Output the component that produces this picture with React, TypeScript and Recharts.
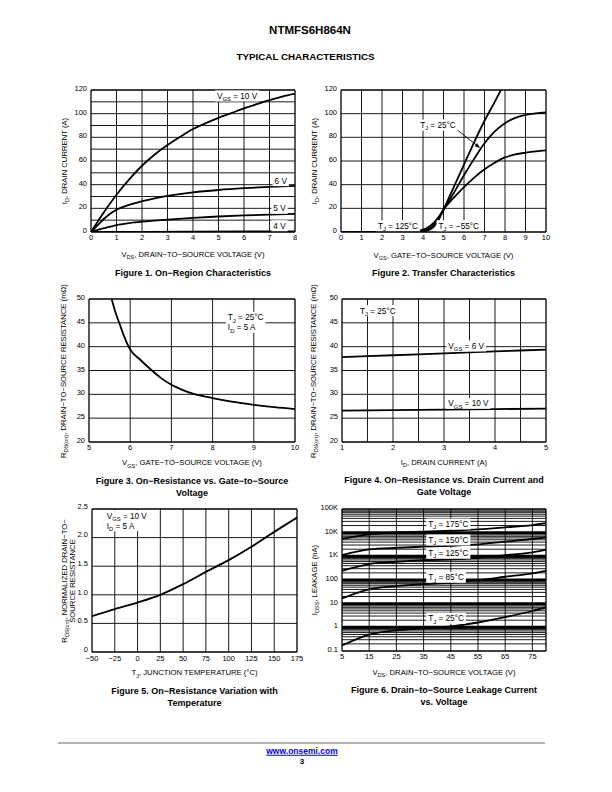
import React from 'react';
import { LineChart, Line, XAxis, YAxis, ReferenceLine, ReferenceDot } from 'recharts';

const FONT = '"Liberation Sans", Arial, Helvetica, sans-serif';

// ---------------- DATA ----------------
// Figure 1: ID vs VDS
const f1X10 = [0, 0.5, 1, 1.5, 2, 2.5, 3, 3.5, 4, 4.5, 5, 5.5, 6, 6.5, 7, 7.5, 8];
const f1Y10 = [0, 16.5, 31.5, 44.5, 56, 65.5, 73.5, 80.5, 87, 92, 96.5, 100.5, 104.5, 108, 111.5, 114.5, 117];
const f1X6 = [0, 0.25, 0.5, 0.75, 1, 1.5, 2, 2.5, 3, 4, 5, 6, 7, 8];
const f1Y6 = [0, 5.5, 11, 15.5, 18.8, 23, 26, 28.5, 30.5, 33.5, 35.5, 37, 38.2, 39];
const f1X5 = [0, 0.5, 1, 1.5, 2, 3, 4, 5, 6, 7, 8];
const f1Y5 = [0, 3.2, 5.9, 7.5, 8.7, 10.5, 12, 13.1, 14, 14.7, 15.3];
const f1X4 = [0, 2, 4, 6, 8];
const f1Y4 = [0, 0.15, 0.3, 0.45, 0.6];
const f1XTicks = [0, 1, 2, 3, 4, 5, 6, 7, 8];
const f1YTicks = [0, 20, 40, 60, 80, 100, 120];

// Figure 2: ID vs VGS
const f2X125 = [0, 1, 2, 3, 3.5, 4, 4.25, 4.5, 4.75, 5, 5.5, 6, 6.5, 7, 7.5, 8, 8.5, 9, 9.5, 10];
const f2Y125 = [0, 0, 0, 0.1, 0.5, 2, 4, 7.5, 12.5, 19, 29, 38, 46, 53, 58.5, 63, 65.5, 67, 68.2, 69];
const f2X25 = [0, 1, 2, 3, 3.5, 3.75, 4, 4.25, 4.5, 4.75, 5, 5.5, 6, 6.5, 7, 7.5, 8, 8.5, 9, 9.5, 10];
const f2Y25 = [0, 0, 0, 0, 0.1, 0.3, 1, 2.5, 5.5, 11, 19, 33, 48, 62, 75, 85, 92, 96.5, 99, 100.3, 101];
const f2Xm55 = [0, 1, 2, 3, 3.5, 4, 4.25, 4.5, 4.75, 5, 5.5, 6, 6.5, 7, 7.5, 7.8];
const f2Ym55 = [0, 0, 0, 0, 0, 0.3, 1.5, 4, 10, 19, 38, 57, 76, 94, 110, 120];
const f2XTicks = [0, 1, 2, 3, 4, 5, 6, 7, 8, 9, 10];
const f2YTicks = [0, 20, 40, 60, 80, 100, 120];

// Figure 3: RDS(on) vs VGS
const f3X = [5.55, 5.65, 5.75, 5.85, 5.95, 6, 6.25, 6.5, 6.75, 7, 7.25, 7.5, 8, 8.5, 9, 9.5, 10];
const f3Y = [50, 47, 44.6, 42.2, 40.2, 39.4, 37.2, 35.2, 33.4, 32, 31, 30.2, 29.2, 28.4, 27.8, 27.3, 26.9];
const f3XTicks = [5, 6, 7, 8, 9, 10];
const f3YTicks = [20, 25, 30, 35, 40, 45, 50];

// Figure 4: RDS(on) vs ID
const f4X = [1, 2, 3, 4, 5];
const f4Y6 = [37.8, 38.2, 38.6, 39.0, 39.4];
const f4Y10 = [26.6, 26.7, 26.8, 26.9, 27.0];
const f4XTicks = [1, 2, 3, 4, 5];
const f4YTicks = [20, 25, 30, 35, 40, 45, 50];

// Figure 5: normalized RDS(on) vs TJ
const f5X = [-50, -25, 0, 25, 50, 75, 100, 125, 150, 175];
const f5Y = [0.625, 0.75, 0.865, 1.0, 1.186, 1.4, 1.606, 1.84, 2.1, 2.35];
const f5XTicks = [-50, -25, 0, 25, 50, 75, 100, 125, 150, 175];
const f5YTicks = [0, 0.5, 1, 1.5, 2, 2.5];

// Figure 6: IDSS vs VDS (log)
const f6X = [5, 15, 25, 35, 45, 55, 65, 75, 80];
const f6Y25 = [0.17, 0.49, 0.75, 0.9, 1.1, 1.6, 2.7, 4.9, 6.9];
const f6Y85 = [16.6, 40, 55, 67, 76, 98, 137, 190, 245];
const f6Y125 = [245, 470, 590, 690, 740, 870, 1130, 1470, 1860];
const f6Y150 = [1130, 1950, 2300, 2550, 2800, 3200, 4200, 5400, 6300];
const f6Y175 = [5400, 8500, 10300, 11000, 12100, 13700, 16800, 21000, 25000];
const f6XTicks = [5, 15, 25, 35, 45, 55, 65, 75];
const f6YTicks = [0.1, 1, 10, 100, 1000, 10000, 100000];
const f6YTickLabels = ['0.1', '1', '10', '100', '1K', '10K', '100K'];

// ---------------- HELPERS ----------------
type Seg = [string, boolean?];
type Pt = { x: number; y: number };
const zip = (xs: number[], ys: number[]): Pt[] => xs.map((x, i) => ({ x, y: ys[i] }));
const range = (a: number, b: number, s: number) => {
  const r: number[] = [];
  for (let v = a; v <= b + 1e-9; v += s) r.push(+v.toFixed(6));
  return r;
};
const logGrid = () => {
  const r: number[] = [];
  [0.1, 1, 10, 100, 1000, 10000].forEach((d) => {
    for (let m = 1; m <= 9; m++) r.push(+(d * m).toPrecision(6));
  });
  r.push(100000);
  return r;
};

let _ctx: CanvasRenderingContext2D | null = null;
const measure = (s: string, fs: number) => {
  if (!_ctx) _ctx = document.createElement('canvas').getContext('2d');
  if (!_ctx) return s.length * fs * 0.55;
  _ctx.font = `${fs}px "Liberation Sans"`;
  return _ctx.measureText(s).width;
};

const SUB = 0.72;
function svgRich(segs: Seg[], fs: number) {
  const out: React.ReactNode[] = [];
  segs.forEach(([t, sub], i) => {
    const prevSub = i > 0 && segs[i - 1][1];
    if (sub) {
      out.push(
        <tspan key={i} fontSize={fs * SUB} dy={prevSub ? 0 : fs * 0.28}>
          {t}
        </tspan>
      );
    } else {
      out.push(
        <tspan key={i} dy={prevSub ? -fs * 0.28 : 0}>
          {t}
        </tspan>
      );
    }
  });
  return out;
}

function Rich({ segs, fs }: { segs: Seg[]; fs: number }) {
  return (
    <>
      {segs.map(([t, sub], i) =>
        sub ? (
          <span key={i} style={{ fontSize: fs * SUB, position: 'relative', top: fs * 0.3 }}>
            {t}
          </span>
        ) : (
          <span key={i}>{t}</span>
        )
      )}
    </>
  );
}

const ANN_FS = 8.2;
const ANN_LH = 10;
function AnnLabel(props: any) {
  const { cx, cy, lines } = props;
  if (cx == null || cy == null || isNaN(cx)) return null;
  const widths = (lines as Seg[][]).map((l) =>
    l.reduce((a, [t, s]) => a + measure(t, s ? ANN_FS * SUB : ANN_FS), 0)
  );
  const w = Math.max(...widths) + 4;
  const h = ANN_LH * lines.length + 1;
  return (
    <g>
      <rect x={cx - 2} y={cy - ANN_LH / 2 - 0.5} width={w} height={h} fill="#fff" />
      {(lines as Seg[][]).map((l, i) => (
        <text
          key={i}
          x={cx}
          y={cy + i * ANN_LH + ANN_FS * 0.36}
          fontSize={ANN_FS}
          fontFamily={FONT}
          fill="#000"
        >
          {svgRich(l, ANN_FS)}
        </text>
      ))}
    </g>
  );
}

function Arrow(props: any) {
  const { x1, y1, x2, y2 } = props;
  if (x1 == null || isNaN(x1)) return null;
  const ang = Math.atan2(y2 - y1, x2 - x1);
  const L = 5.5;
  const Wd = 2;
  const bx = x2 - L * Math.cos(ang);
  const by = y2 - L * Math.sin(ang);
  const px = -Math.sin(ang) * Wd;
  const py = Math.cos(ang) * Wd;
  return (
    <g>
      <line x1={x1} y1={y1} x2={bx} y2={by} stroke="#000" strokeWidth={0.9} />
      <polygon points={`${x2},${y2} ${bx + px},${by + py} ${bx - px},${by - py}`} fill="#000" />
    </g>
  );
}

type Ann = { x: number; y: number; lines: Seg[][] };

interface PanelProps {
  plot: { left: number; top: number; w: number; h: number };
  xDomain: [number, number];
  yDomain: [number, number];
  xTicks: number[];
  yTicks: number[];
  xGrid: number[];
  yGrid: number[];
  thickY?: number[];
  yLog?: boolean;
  xFmt?: (v: number) => string;
  yFmt?: (v: number) => string;
  series: Pt[][];
  anns: Ann[];
  arrow?: [Pt, Pt];
  xTickMargin?: number;
  yTickDy?: number;
}

const TICK_FS = 7.5;

function Panel(p: PanelProps) {
  const YW = 32;
  const MT = 8;
  const MR = 10;
  const XH = 16;
  const W = YW + p.plot.w + MR;
  const H = MT + p.plot.h + XH;
  const [x0, x1] = p.xDomain;
  const [y0, y1] = p.yDomain;
  const xTickStyle = { fontSize: TICK_FS, fill: '#000', fontFamily: FONT };
  const yTickStyle = { fontSize: TICK_FS, fill: '#000', fontFamily: FONT, dy: p.yTickDy ?? -1.5 };
  return (
    <div style={{ position: 'absolute', left: p.plot.left - YW, top: p.plot.top - MT }}>
      <LineChart width={W} height={H} margin={{ top: MT, right: MR, bottom: 0, left: 0 }}>
        <XAxis
          type="number"
          dataKey="x"
          domain={p.xDomain}
          ticks={p.xTicks}
          interval={0}
          tickFormatter={p.xFmt}
          allowDataOverflow
          axisLine={false}
          tickLine={false}
          tickSize={0}
          tickMargin={p.xTickMargin ?? 3}
          height={XH}
          tick={xTickStyle}
        />
        <YAxis
          type="number"
          domain={p.yDomain}
          scale={p.yLog ? 'log' : 'auto'}
          ticks={p.yTicks}
          interval={0}
          tickFormatter={p.yFmt}
          allowDataOverflow
          axisLine={false}
          tickLine={false}
          tickSize={0}
          tickMargin={4}
          width={YW}
          tick={yTickStyle}
        />
        {p.xGrid.map((v) => (
          <ReferenceLine
            key={'gx' + v}
            x={v}
            stroke="#000"
            strokeWidth={v === x0 || v === x1 ? 1.3 : 0.9}
          />
        ))}
        {p.yGrid.map((v) => (
          <ReferenceLine
            key={'gy' + v}
            y={v}
            stroke="#000"
            strokeWidth={v === y0 || v === y1 ? 1.3 : p.thickY && p.thickY.includes(v) ? 3 : 0.9}
          />
        ))}
        {p.series.map((d, i) => (
          <Line
            key={'s' + i}
            data={d}
            dataKey="y"
            type="monotone"
            dot={false}
            stroke="#000"
            strokeWidth={1.8}
            isAnimationActive={false}
          />
        ))}
        {p.arrow && (
          <ReferenceLine
            segment={p.arrow}
            stroke="#000"
            ifOverflow="visible"
            shape={(pp: any) => <Arrow {...pp} />}
          />
        )}
        {p.anns.map((a, i) => (
          <ReferenceDot
            key={'a' + i}
            x={a.x}
            y={a.y}
            r={0}
            ifOverflow="visible"
            shape={(pp: any) => <AnnLabel {...pp} lines={a.lines} />}
          />
        ))}
      </LineChart>
    </div>
  );
}

function HText({
  cx,
  cy,
  fs,
  bold,
  rotate,
  color,
  underline,
  children,
}: {
  cx: number;
  cy: number;
  fs: number;
  bold?: boolean;
  rotate?: boolean;
  color?: string;
  underline?: boolean;
  children: React.ReactNode;
}) {
  return (
    <div
      style={{
        position: 'absolute',
        left: cx,
        top: cy,
        transform: `translate(-50%,-50%)${rotate ? ' rotate(-90deg)' : ''}`,
        fontSize: fs,
        fontWeight: bold ? 700 : 400,
        fontFamily: FONT,
        whiteSpace: 'nowrap',
        lineHeight: 1,
        color: color || '#000',
        textDecoration: underline ? 'underline' : 'none',
      }}
    >
      {children}
    </div>
  );
}

const TITLE_FS = 7.7;
const CAP_FS = 9.0;

const VGS: Seg[] = [['V'], ['GS', true]];
const TJ: Seg[] = [['T'], ['J', true]];
const ID: Seg[] = [['I'], ['D', true]];

export default function App() {
  const fmt5x = (v: number) => (v < 0 ? '\u2212' + Math.abs(v) : String(v));
  const fmt5y = (v: number) => (v === 0 ? '0' : v.toFixed(1));
  const fmt6y = (v: number) => {
    const i = f6YTicks.findIndex((t) => Math.abs(t - v) / t < 1e-6);
    return i >= 0 ? f6YTickLabels[i] : '';
  };

  const p1 = { left: 91, top: 90, w: 204, h: 142 };
  const p2 = { left: 341, top: 90, w: 205, h: 142 };
  const p3 = { left: 89, top: 299, w: 206, h: 143 };
  const p4 = { left: 342, top: 299, w: 204, h: 143 };
  const p5 = { left: 92, top: 509, w: 205, h: 143 };
  const p6 = { left: 342, top: 509, w: 204, h: 142 };
  const cxOf = (p: { left: number; w: number }) => p.left + p.w / 2;
  const cyOf = (p: { top: number; h: number }) => p.top + p.h / 2;

  return (
    <div
      style={{
        position: 'absolute',
        left: 0,
        top: 0,
        width: 612,
        height: 792,
        background: '#fff',
        fontFamily: FONT,
        overflow: 'hidden',
      }}
    >
      <HText cx={310} cy={30.7} fs={11.5} bold>
        NTMFS6H864N
      </HText>
      <HText cx={305.5} cy={57.3} fs={9.8} bold>
        TYPICAL CHARACTERISTICS
      </HText>

      {/* Figure 1 */}
      <Panel
        plot={p1}
        xDomain={[0, 8]}
        yDomain={[0, 120]}
        xTicks={f1XTicks}
        yTicks={f1YTicks}
        xGrid={range(0, 8, 1)}
        yGrid={range(0, 120, 10)}
        series={[zip(f1X10, f1Y10), zip(f1X6, f1Y6), zip(f1X5, f1Y5), zip(f1X4, f1Y4)]}
        anns={[
          { x: 4.94, y: 115, lines: [[...VGS, [' = 10 V']]] },
          { x: 7.2, y: 43.4, lines: [[['6 V']]] },
          { x: 7.15, y: 20, lines: [[['5 V']]] },
          { x: 7.15, y: 5.3, lines: [[['4 V']]] },
        ]}
      />
      <HText cx={cxOf(p1)} cy={255} fs={TITLE_FS}>
        <Rich segs={[['V'], ['DS', true], [', DRAIN\u2212TO\u2212SOURCE VOLTAGE (V)']]} fs={TITLE_FS} />
      </HText>
      <HText cx={65} cy={cyOf(p1)} fs={TITLE_FS} rotate>
        <Rich segs={[...ID, [', DRAIN CURRENT (A)']]} fs={TITLE_FS} />
      </HText>
      <HText cx={cxOf(p1)} cy={272.7} fs={CAP_FS} bold>
        Figure 1. On{'\u2212'}Region Characteristics
      </HText>

      {/* Figure 2 */}
      <Panel
        plot={p2}
        xDomain={[0, 10]}
        yDomain={[0, 120]}
        xTicks={f2XTicks}
        yTicks={f2YTicks}
        xGrid={range(0, 10, 1)}
        yGrid={range(0, 120, 20)}
        series={[zip(f2X125, f2Y125), zip(f2X25, f2Y25), zip(f2Xm55, f2Ym55)]}
        arrow={[
          { x: 5.67, y: 86.2 },
          { x: 6.79, y: 71 },
        ]}
        anns={[
          { x: 3.86, y: 90.4, lines: [[...TJ, [' = 25\u00b0C']]] },
          { x: 1.8, y: 5.3, lines: [[...TJ, [' = 125\u00b0C']]] },
          { x: 4.76, y: 5.3, lines: [[...TJ, [' = \u221255\u00b0C']]] },
        ]}
      />
      <HText cx={cxOf(p2)} cy={256} fs={TITLE_FS}>
        <Rich segs={[...VGS, [', GATE\u2212TO\u2212SOURCE VOLTAGE (V)']]} fs={TITLE_FS} />
      </HText>
      <HText cx={315} cy={cyOf(p2)} fs={TITLE_FS} rotate>
        <Rich segs={[...ID, [', DRAIN CURRENT (A)']]} fs={TITLE_FS} />
      </HText>
      <HText cx={cxOf(p2)} cy={273.3} fs={CAP_FS} bold>
        Figure 2. Transfer Characteristics
      </HText>

      {/* Figure 3 */}
      <Panel
        plot={p3}
        xDomain={[5, 10]}
        yDomain={[20, 50]}
        xTicks={f3XTicks}
        yTicks={f3YTicks}
        xGrid={range(5, 10, 1)}
        yGrid={range(20, 50, 5)}
        series={[zip(f3X, f3Y)]}
        anns={[
          {
            x: 8.37,
            y: 46.16,
            lines: [
              [...TJ, [' = 25\u00b0C']],
              [...ID, [' = 5 A']],
            ],
          },
        ]}
      />
      <HText cx={cxOf(p3)} cy={463.3} fs={TITLE_FS}>
        <Rich segs={[...VGS, [', GATE\u2212TO\u2212SOURCE VOLTAGE (V)']]} fs={TITLE_FS} />
      </HText>
      <HText cx={63.5} cy={cyOf(p3)} fs={TITLE_FS} rotate>
        <Rich
          segs={[['R'], ['DS(on)', true], [', DRAIN\u2212TO\u2212SOURCE RESISTANCE (m\u03a9)']]}
          fs={TITLE_FS}
        />
      </HText>
      <HText cx={cxOf(p3)} cy={480.7} fs={CAP_FS} bold>
        Figure 3. On{'\u2212'}Resistance vs. Gate{'\u2212'}to{'\u2212'}Source
      </HText>
      <HText cx={cxOf(p3)} cy={492.7} fs={CAP_FS} bold>
        Voltage
      </HText>

      {/* Figure 4 */}
      <Panel
        plot={p4}
        xDomain={[1, 5]}
        yDomain={[20, 50]}
        xTicks={f4XTicks}
        yTicks={f4YTicks}
        xGrid={range(1, 5, 0.5)}
        yGrid={range(20, 50, 5)}
        series={[zip(f4X, f4Y6), zip(f4X, f4Y10)]}
        anns={[
          { x: 1.353, y: 47.55, lines: [[...TJ, [' = 25\u00b0C']]] },
          { x: 3.085, y: 40.14, lines: [[...VGS, [' = 6 V']]] },
          { x: 3.085, y: 28.12, lines: [[...VGS, [' = 10 V']]] },
        ]}
      />
      <HText cx={cxOf(p4)} cy={463} fs={TITLE_FS}>
        <Rich segs={[...ID, [', DRAIN CURRENT (A)']]} fs={TITLE_FS} />
      </HText>
      <HText cx={314} cy={cyOf(p4)} fs={TITLE_FS} rotate>
        <Rich
          segs={[['R'], ['DS(on)', true], [', DRAIN\u2212TO\u2212SOURCE RESISTANCE (m\u03a9)']]}
          fs={TITLE_FS}
        />
      </HText>
      <HText cx={cxOf(p4)} cy={480} fs={CAP_FS} bold>
        Figure 4. On{'\u2212'}Resistance vs. Drain Current and
      </HText>
      <HText cx={cxOf(p4)} cy={491.5} fs={CAP_FS} bold>
        Gate Voltage
      </HText>

      {/* Figure 5 */}
      <Panel
        plot={p5}
        xDomain={[-50, 175]}
        yDomain={[0, 2.5]}
        xTicks={f5XTicks}
        yTicks={f5YTicks}
        xGrid={range(-50, 175, 25)}
        yGrid={range(0, 2.5, 0.5)}
        xFmt={fmt5x}
        yFmt={fmt5y}
        xTickMargin={4}
        yTickDy={-2.8}
        series={[zip(f5X, f5Y)]}
        anns={[
          {
            x: -33.9,
            y: 2.383,
            lines: [
              [...VGS, [' = 10 V']],
              [...ID, [' = 5 A']],
            ],
          },
        ]}
      />
      <HText cx={cxOf(p5)} cy={673.3} fs={TITLE_FS}>
        <Rich segs={[...TJ, [', JUNCTION TEMPERATURE (\u00b0C)']]} fs={TITLE_FS} />
      </HText>
      <HText cx={64.5} cy={cyOf(p5)} fs={TITLE_FS} rotate>
        <Rich segs={[['R'], ['DS(on)', true], [', NORMALIZED DRAIN\u2212TO\u2212']]} fs={TITLE_FS} />
      </HText>
      <HText cx={72.5} cy={cyOf(p5)} fs={TITLE_FS} rotate>
        SOURCE RESISTANCE
      </HText>
      <HText cx={cxOf(p5)} cy={690.7} fs={CAP_FS} bold>
        Figure 5. On{'\u2212'}Resistance Variation with
      </HText>
      <HText cx={cxOf(p5)} cy={702.7} fs={CAP_FS} bold>
        Temperature
      </HText>

      {/* Figure 6 */}
      <Panel
        plot={p6}
        xDomain={[5, 80]}
        yDomain={[0.1, 100000]}
        yLog
        xTicks={f6XTicks}
        yTicks={f6YTicks}
        xGrid={[...range(5, 75, 10), 80]}
        yGrid={logGrid()}
        thickY={[1, 10, 100, 1000, 10000]}
        yFmt={fmt6y}
        series={[zip(f6X, f6Y25), zip(f6X, f6Y85), zip(f6X, f6Y125), zip(f6X, f6Y150), zip(f6X, f6Y175)]}
        anns={[
          { x: 36.7, y: 23200, lines: [[...TJ, [' = 175\u00b0C']]] },
          { x: 36.7, y: 4900, lines: [[...TJ, [' = 150\u00b0C']]] },
          { x: 36.7, y: 1350, lines: [[...TJ, [' = 125\u00b0C']]] },
          { x: 36.7, y: 130, lines: [[...TJ, [' = 85\u00b0C']]] },
          { x: 36.7, y: 2.41, lines: [[...TJ, [' = 25\u00b0C']]] },
        ]}
      />
      <HText cx={cxOf(p6)} cy={673} fs={TITLE_FS}>
        <Rich segs={[['V'], ['DS', true], [', DRAIN\u2212TO\u2212SOURCE VOLTAGE (V)']]} fs={TITLE_FS} />
      </HText>
      <HText cx={315} cy={cyOf(p6)} fs={TITLE_FS} rotate>
        <Rich segs={[['I'], ['DSS', true], [', LEAKAGE (nA)']]} fs={TITLE_FS} />
      </HText>
      <HText cx={cxOf(p6)} cy={690.3} fs={CAP_FS} bold>
        Figure 6. Drain{'\u2212'}to{'\u2212'}Source Leakage Current
      </HText>
      <HText cx={cxOf(p6)} cy={702.3} fs={CAP_FS} bold>
        vs. Voltage
      </HText>

      {/* Footer */}
      <div
        style={{
          position: 'absolute',
          left: 58,
          top: 742.3,
          width: 487,
          height: 2,
          background: '#b4b4b4',
        }}
      />
      <HText cx={302} cy={751} fs={8.5} bold color="#0000ee" underline>
        www.onsemi.com
      </HText>
      <HText cx={302} cy={762} fs={8} bold>
        3
      </HText>
    </div>
  );
}
